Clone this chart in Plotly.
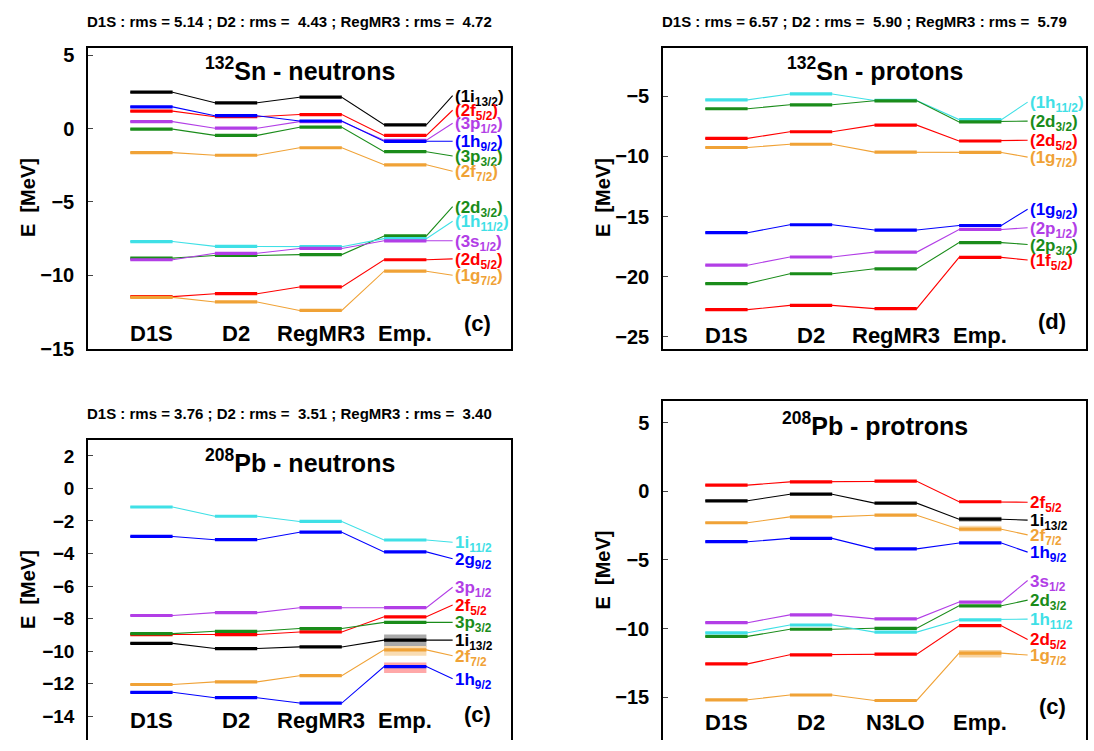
import plotly.graph_objects as go

# ---------------- data ----------------
MODELS_A = ["D1S", "D2", "RegMR3", "Emp."]
MODELS_B = ["D1S", "D2", "N3LO", "Emp."]

BLACK = "#000000"; RED = "#ff0000"; PURPLE = "#b23ee6"; BLUE = "#0000ff"
GREEN = "#1a8c1a"; ORANGE = "#f0a236"; CYAN = "#3fe0e6"

# (c) 132Sn neutrons
SN_N_STATES = ["(1i<sub>13/2</sub>)", "(2f<sub>5/2</sub>)", "(3p<sub>1/2</sub>)", "(1h<sub>9/2</sub>)",
               "(3p<sub>3/2</sub>)", "(2f<sub>7/2</sub>)", "(2d<sub>3/2</sub>)", "(1h<sub>11/2</sub>)",
               "(3s<sub>1/2</sub>)", "(2d<sub>5/2</sub>)", "(1g<sub>7/2</sub>)"]
SN_N_D1S = [2.47, 1.18, 0.47, 1.47, -0.04, -1.64, -8.82, -7.69, -8.93, -11.44, -11.49]
SN_N_D2 = [1.75, 0.80, 0.02, 0.87, -0.47, -1.82, -8.64, -8.02, -8.49, -11.24, -11.80]
SN_N_REGMR3 = [2.13, 0.95, 0.47, 0.51, 0.09, -1.31, -8.58, -8.04, -8.16, -10.78, -12.38]
SN_N_EMP = [0.25, -0.47, -0.80, -0.87, -1.58, -2.47, -7.31, -7.49, -7.64, -8.93, -9.71]
SN_N_RMS = "D1S : rms = 5.14 ; D2 : rms =  4.43 ; RegMR3 : rms =  4.72"

# (d) 132Sn protons
SN_P_STATES = ["(1h<sub>11/2</sub>)", "(2d<sub>3/2</sub>)", "(2d<sub>5/2</sub>)", "(1g<sub>7/2</sub>)",
               "(1g<sub>9/2</sub>)", "(2p<sub>1/2</sub>)", "(2p<sub>3/2</sub>)", "(1f<sub>5/2</sub>)"]
SN_P_D1S = [-5.30, -6.04, -8.50, -9.26, -16.34, -19.04, -20.57, -22.73]
SN_P_D2 = [-4.81, -5.71, -7.95, -8.99, -15.68, -18.36, -19.75, -22.38]
SN_P_REGMR3 = [-5.35, -5.38, -7.40, -9.64, -16.12, -17.95, -19.34, -22.65]
SN_P_EMP = [-6.94, -7.13, -8.72, -9.67, -15.74, -16.07, -17.16, -18.39]
SN_P_RMS = "D1S : rms = 6.57 ; D2 : rms =  5.90 ; RegMR3 : rms =  5.79"

# (c) 208Pb neutrons
PB_N_STATES = ["1i<sub>11/2</sub>", "2g<sub>9/2</sub>", "3p<sub>1/2</sub>", "2f<sub>5/2</sub>",
               "3p<sub>3/2</sub>", "1i<sub>13/2</sub>", "2f<sub>7/2</sub>", "1h<sub>9/2</sub>"]
PB_N_D1S = [-1.14, -2.95, -7.81, -8.98, -8.92, -9.52, -12.05, -12.53]
PB_N_D2 = [-1.71, -3.15, -7.63, -8.98, -8.78, -9.84, -11.89, -12.86]
PB_N_REGMR3 = [-2.03, -2.69, -7.33, -8.82, -8.61, -9.74, -11.51, -13.19]
PB_N_EMP = [-3.17, -3.90, -7.33, -7.89, -8.23, -9.32, -9.92, -10.95]
PB_N_EMP_LO = [None, None, None, None, None, -9.78, -10.28, -11.35]
PB_N_EMP_HI = [None, None, None, None, None, -8.98, -9.68, -10.70]
PB_N_RMS = "D1S : rms = 3.76 ; D2 : rms =  3.51 ; RegMR3 : rms =  3.40"

# (c) 208Pb protons
PB_P_STATES = ["2f<sub>5/2</sub>", "1i<sub>13/2</sub>", "2f<sub>7/2</sub>", "1h<sub>9/2</sub>",
               "3s<sub>1/2</sub>", "2d<sub>3/2</sub>", "1h<sub>11/2</sub>", "2d<sub>5/2</sub>", "1g<sub>7/2</sub>"]
PB_P_D1S = [0.45, -0.69, -2.29, -3.67, -9.57, -10.57, -10.31, -12.57, -15.19]
PB_P_D2 = [0.69, -0.21, -1.86, -3.43, -9.00, -10.05, -9.74, -11.91, -14.84]
PB_P_N3LO = [0.74, -0.86, -1.74, -4.19, -9.29, -9.98, -10.26, -11.86, -15.24]
PB_P_EMP = [-0.76, -2.03, -2.76, -3.76, -8.07, -8.34, -9.36, -9.79, -11.79]
PB_P_EMP_LO = [None, -2.21, -2.93, None, None, None, None, None, -12.10]
PB_P_EMP_HI = [None, -1.86, -2.50, None, None, None, None, None, -11.57]

# ---------------- styles / layout ----------------
SN_N_COLORS = [BLACK, RED, PURPLE, BLUE, GREEN, ORANGE, GREEN, CYAN, PURPLE, RED, ORANGE]
SN_N_LABEL_Y = [2.24, 1.24, 0.36, -0.87, -1.87, -2.91, -5.31, -6.31, -7.64, -8.87, -9.98]
SN_P_COLORS = [CYAN, GREEN, RED, ORANGE, BLUE, PURPLE, GREEN, RED]
SN_P_LABEL_Y = [-5.49, -7.07, -8.66, -10.06, -14.39, -15.93, -17.32, -18.61]
PB_N_COLORS = [CYAN, BLUE, PURPLE, RED, GREEN, BLACK, ORANGE, BLUE]
PB_N_LABEL_Y = [-3.31, -4.32, -6.07, -7.17, -8.23, -9.32, -10.28, -11.69]
PB_N_BAND_COLORS = [None, None, None, None, None, "#a9a9a9", "#f9dcb2", "#ffa8a8"]
PB_P_COLORS = [RED, BLACK, ORANGE, BLUE, PURPLE, GREEN, CYAN, RED, ORANGE]
PB_P_LABEL_Y = [-0.79, -2.10, -3.17, -4.43, -6.50, -7.93, -9.31, -10.79, -11.93]
PB_P_BAND_COLORS = [None, "#a9a9a9", "#f9dcb2", None, None, None, None, None, "#f7d3a0"]

W, H = 1094, 751
FONT = "Liberation Sans, Arial, Helvetica, sans-serif"

fig = go.Figure()
annotations = []
shapes = []

SEG = [(1, 2), (3, 4), (5, 6), (7, 8)]
CONN_END = 8.62
LABEL_X = 8.66


def px2x(p):
    return p / W


def px2y(p):
    return 1 - p / H


def add_panel(idx, states, colors, series, label_y, models, title, tag, yrange, dtick,
              dom_x, dom_y, cat_y, title_y, tag_y, tick_size, closed_bottom,
              band_lo=None, band_hi=None, band_colors=None):
    xa = "x" if idx == 1 else f"x{idx}"
    ya = "y" if idx == 1 else f"y{idx}"
    if band_lo is not None:
        for lo, hi, bc in zip(band_lo, band_hi, band_colors):
            if lo is None:
                continue
            shapes.append(dict(type="rect", xref=xa, yref=ya, x0=SEG[3][0], x1=SEG[3][1],
                               y0=lo, y1=hi, fillcolor=bc, line=dict(width=0), layer="below"))
    for k, (st, col) in enumerate(zip(states, colors)):
        vals = [s[k] for s in series]
        xs, ys = [], []
        for (a, b), v in zip(SEG, vals):
            xs += [a, b]; ys += [v, v]
        xs.append(CONN_END); ys.append(label_y[k])
        fig.add_trace(go.Scatter(x=xs, y=ys, mode="lines", line=dict(color=col, width=1.1),
                                 xaxis=xa, yaxis=ya, showlegend=False, hoverinfo="skip"))
        sx, sy = [], []
        for (a, b), v in zip(SEG, vals):
            sx += [a, b, None]; sy += [v, v, None]
        fig.add_trace(go.Scatter(x=sx, y=sy, mode="lines", line=dict(color=col, width=3.2),
                                 xaxis=xa, yaxis=ya, showlegend=False, name=st))
        annotations.append(dict(x=LABEL_X, y=label_y[k], xref=xa, yref=ya, text=st,
                                showarrow=False, xanchor="left", yanchor="middle", yshift=-2,
                                borderpad=0,
                                font=dict(family=FONT, size=17, color=col, weight="bold")))
    for (a, b), m in zip(SEG, models):
        annotations.append(dict(x=(a + b) / 2, y=cat_y, xref=xa, yref=ya, text=m, showarrow=False,
                                xanchor="center", yanchor="middle",
                                font=dict(family=FONT, size=22, color="black", weight="bold")))
    annotations.append(dict(x=9.2, y=tag_y, xref=xa, yref=ya, text=tag, showarrow=False,
                            xanchor="center", yanchor="middle",
                            font=dict(family=FONT, size=22, color="black", weight="bold")))
    annotations.append(dict(x=5.0, y=title_y, xref=xa, yref=ya, text=title, showarrow=False,
                            xanchor="center", yanchor="middle", yshift=3,
                            font=dict(family=FONT, size=25, color="black", weight="bold")))
    xkey = "xaxis" if idx == 1 else f"xaxis{idx}"
    ykey = "yaxis" if idx == 1 else f"yaxis{idx}"
    xax = dict(domain=dom_x, range=[0, 10], showticklabels=False, ticks="", showgrid=False,
               zeroline=False, showline=True, linecolor="black", linewidth=1.5,
               anchor=ya, fixedrange=True)
    if closed_bottom:
        xax["mirror"] = True
    else:
        xax["side"] = "top"
        xax["mirror"] = False
    yax = dict(domain=dom_y, range=yrange, dtick=dtick, tick0=0, ticks="inside", ticklen=5,
               tickcolor="#444", showgrid=False, zeroline=False, showline=True, mirror=True,
               linecolor="black", linewidth=1.5, anchor=xa, ticklabelstandoff=8,
               tickfont=dict(family=FONT, size=tick_size, color="black", weight="bold"),
               fixedrange=True)
    fig.update_layout(**{xkey: xax, ykey: yax})


DX_L = [px2x(88), px2x(511)]
DX_R = [px2x(663), px2x(1086)]

add_panel(1, SN_N_STATES, SN_N_COLORS, [SN_N_D1S, SN_N_D2, SN_N_REGMR3, SN_N_EMP], SN_N_LABEL_Y,
          MODELS_A, "<sup>132</sup>Sn - neutrons", "(c)", [-15, 5.47], 5,
          DX_L, [px2y(352), px2y(45)], -13.95, 3.85, -13.3, 20, True)
add_panel(2, SN_P_STATES, SN_P_COLORS, [SN_P_D1S, SN_P_D2, SN_P_REGMR3, SN_P_EMP], SN_P_LABEL_Y,
          MODELS_A, "<sup>132</sup>Sn - protons", "(d)", [-26, -1], 5,
          DX_R, [px2y(352), px2y(45)], -24.9, -3.0, -23.7, 20, True)
add_panel(3, PB_N_STATES, PB_N_COLORS, [PB_N_D1S, PB_N_D2, PB_N_REGMR3, PB_N_EMP], PB_N_LABEL_Y,
          MODELS_A, "<sup>208</sup>Pb - neutrons", "(c)", [-15.46, 2.97], 2,
          DX_L, [0, px2y(445)], -14.24, 1.5, -13.9, 19, False,
          PB_N_EMP_LO, PB_N_EMP_HI, PB_N_BAND_COLORS)
add_panel(4, PB_P_STATES, PB_P_COLORS, [PB_P_D1S, PB_P_D2, PB_P_N3LO, PB_P_EMP], PB_P_LABEL_Y,
          MODELS_B, "<sup>208</sup>Pb - protrons", "(c)", [-18.12, 6.59], 5,
          DX_R, [0, px2y(405)], -16.86, 4.66, -15.67, 20, False,
          PB_P_EMP_LO, PB_P_EMP_HI, PB_P_BAND_COLORS)

for txt, xp, yp in [(SN_N_RMS, 85, 18), (SN_P_RMS, 660, 18), (PB_N_RMS, 85, 418)]:
    annotations.append(dict(x=px2x(xp), y=px2y(yp), xref="paper", yref="paper", text=txt,
                            showarrow=False, xanchor="left", yanchor="middle",
                            font=dict(family=FONT, size=15, color="black", weight="bold")))

for xp, yp in [(28, 198), (603, 198), (28, 598), (603, 578)]:
    annotations.append(dict(x=px2x(xp), y=px2y(yp), xref="paper", yref="paper", text="E  [MeV]",
                            showarrow=False, textangle=-90, xanchor="center", yanchor="middle",
                            font=dict(family=FONT, size=20, color="black", weight="bold")))

fig.update_layout(width=W, height=H, margin=dict(l=0, r=0, t=0, b=0),
                  paper_bgcolor="white", plot_bgcolor="white",
                  annotations=annotations, shapes=shapes, showlegend=False)

fig.write_html("out.html", config={"displayModeBar": False},
               post_script="document.body.style.margin='0px';document.body.style.overflow='hidden';")
